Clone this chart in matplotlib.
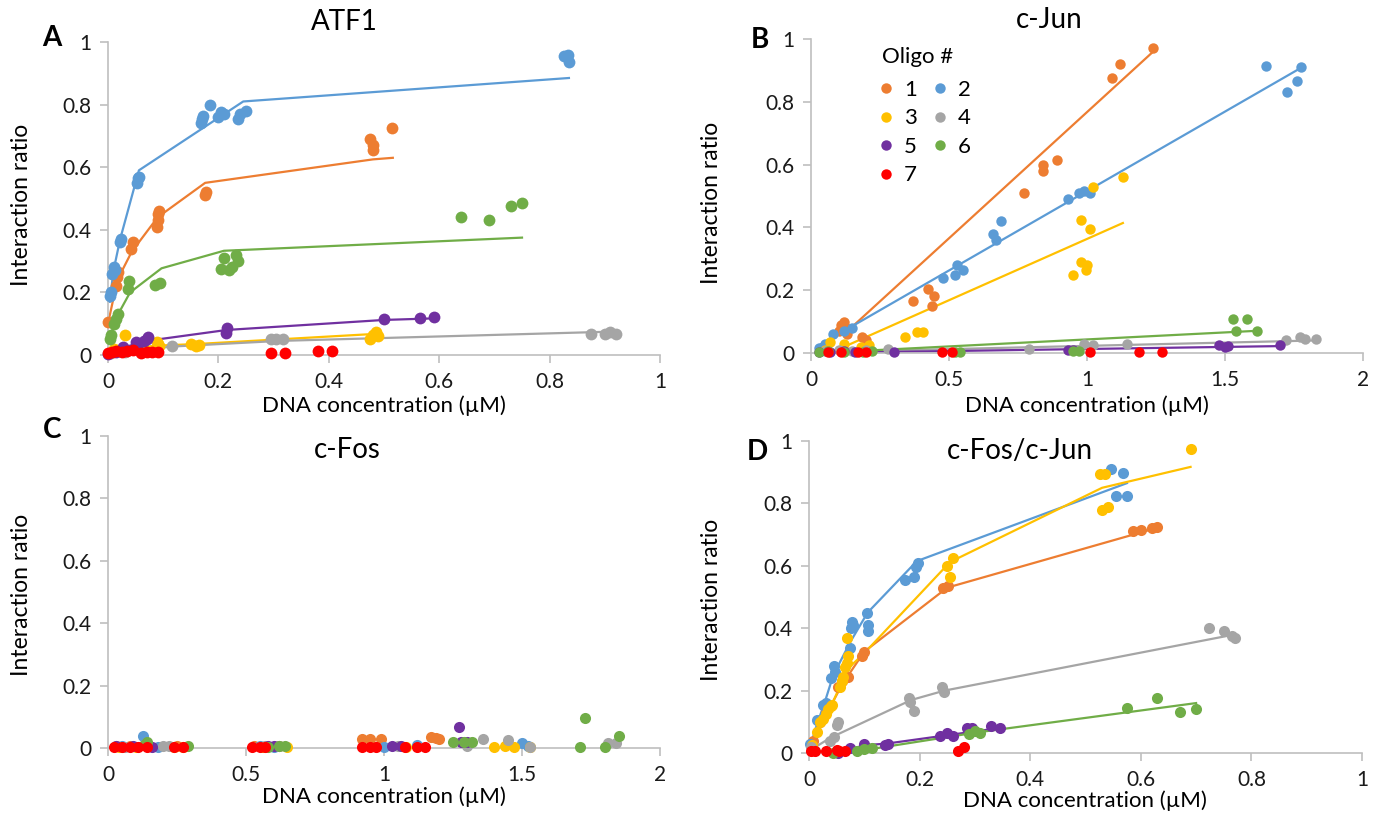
import numpy as np
import matplotlib.pyplot as plt

plt.rcParams['font.family'] = ['Lato', 'DejaVu Sans']

# Excel-style series colours, oligo 1..7
colors = ['#ED7D31', '#5B9BD5', '#FFC000', '#A5A5A5', '#7030A0', '#70AD47', '#FF0000']
oligos = ['1', '2', '3', '4', '5', '6', '7']

# ---- ATF1 ----
atf1_x = [
    [0.0, 0.015, 0.017, 0.019, 0.042, 0.045, 0.088, 0.09, 0.09, 0.092, 0.175, 0.178, 0.475, 0.48, 0.48, 0.515],
    [0.003, 0.005, 0.008, 0.01, 0.012, 0.022, 0.023, 0.053, 0.055, 0.056, 0.168, 0.17, 0.172, 0.185, 0.2, 0.205,
     0.21, 0.235, 0.24, 0.25, 0.826, 0.833, 0.835],
    [0.005, 0.01, 0.031, 0.088, 0.09, 0.092, 0.15, 0.16, 0.165, 0.475, 0.48, 0.485, 0.49],
    [0.005, 0.03, 0.116, 0.295, 0.305, 0.317, 0.875, 0.9, 0.91, 0.92],
    [0.0, 0.015, 0.027, 0.05, 0.055, 0.065, 0.07, 0.072, 0.213, 0.215, 0.5, 0.565, 0.59],
    [0.004, 0.006, 0.01, 0.014, 0.018, 0.036, 0.038, 0.085, 0.095, 0.205, 0.21, 0.22, 0.225, 0.232, 0.235,
     0.64, 0.69, 0.73, 0.75],
    [0.0, 0.008, 0.015, 0.025, 0.035, 0.045, 0.06, 0.07, 0.08, 0.09, 0.295, 0.32, 0.38, 0.405],
]
atf1_y = [
    [0.105, 0.22, 0.25, 0.265, 0.34, 0.36, 0.41, 0.43, 0.45, 0.46, 0.51, 0.52, 0.69, 0.67, 0.655, 0.725],
    [0.19, 0.2, 0.26, 0.28, 0.27, 0.36, 0.37, 0.55, 0.565, 0.57, 0.74, 0.755, 0.765, 0.8, 0.76, 0.775,
     0.77, 0.755, 0.77, 0.78, 0.955, 0.96, 0.935],
    [0.01, 0.02, 0.065, 0.04, 0.035, 0.03, 0.035, 0.03, 0.032, 0.05, 0.065, 0.075, 0.06],
    [0.005, 0.01, 0.03, 0.05, 0.052, 0.05, 0.068, 0.067, 0.072, 0.067],
    [0.003, 0.01, 0.025, 0.04, 0.035, 0.045, 0.05, 0.058, 0.07, 0.085, 0.115, 0.118, 0.12],
    [0.05, 0.065, 0.1, 0.115, 0.13, 0.21, 0.235, 0.225, 0.23, 0.275, 0.31, 0.27, 0.28, 0.32, 0.3,
     0.44, 0.43, 0.475, 0.487],
    [0.005, 0.01, 0.012, 0.01, 0.012, 0.015, 0.005, 0.008, 0.008, 0.01, 0.005, 0.005, 0.012, 0.013],
]
atf1_fit_x = [
    [0.0, 0.017, 0.043, 0.09, 0.176, 0.48, 0.516],
    [0.003, 0.01, 0.022, 0.056, 0.245, 0.835],
    [0.005, 0.03, 0.09, 0.16, 0.49],
    [0.0, 0.116, 0.31, 0.92],
    [0.0, 0.03, 0.07, 0.215, 0.5, 0.59],
    [0.004, 0.012, 0.04, 0.097, 0.21, 0.75],
    [],
]
atf1_fit_y = [
    [0.1, 0.24, 0.33, 0.44, 0.55, 0.625, 0.63],
    [0.17, 0.27, 0.37, 0.59, 0.81, 0.885],
    [0.01, 0.02, 0.03, 0.035, 0.068],
    [0.003, 0.027, 0.045, 0.075],
    [0.003, 0.025, 0.045, 0.08, 0.112, 0.117],
    [0.05, 0.11, 0.2, 0.277, 0.333, 0.375],
    [],
]

# ---- c-Jun ----
cjun_x = [
    [0.1, 0.11, 0.12, 0.125, 0.13, 0.185, 0.2, 0.37, 0.425, 0.44, 0.445, 0.77, 0.84, 0.84, 0.89, 1.09, 1.12, 1.24],
    [0.03, 0.05, 0.08, 0.12, 0.15, 0.48, 0.52, 0.53, 0.55, 0.66, 0.67, 0.69, 0.93, 0.97, 0.99, 1.01,
     1.65, 1.725, 1.76, 1.775],
    [0.05, 0.07, 0.12, 0.18, 0.21, 0.34, 0.385, 0.405, 0.95, 0.98, 0.995, 1.0, 0.98, 1.01, 1.02, 1.13],
    [0.05, 0.1, 0.15, 0.2, 0.28, 0.79, 0.99, 1.02, 1.145, 1.72, 1.77, 1.79, 1.83],
    [0.03, 0.07, 0.12, 0.16, 0.3, 0.93, 0.95, 1.48, 1.5, 1.51, 1.7],
    [0.03, 0.06, 0.12, 0.19, 0.22, 0.52, 0.54, 0.95, 0.97, 1.53, 1.54, 1.58, 1.615],
    [0.06, 0.11, 0.17, 0.2, 0.475, 0.51, 1.01, 1.19, 1.27],
]
cjun_y = [
    [0.07, 0.09, 0.1, 0.08, 0.06, 0.05, 0.04, 0.165, 0.205, 0.15, 0.18, 0.51, 0.6, 0.58, 0.615, 0.875, 0.92, 0.97],
    [0.015, 0.03, 0.06, 0.07, 0.08, 0.24, 0.25, 0.28, 0.265, 0.38, 0.36, 0.42, 0.49, 0.51, 0.515, 0.51,
     0.915, 0.83, 0.865, 0.91],
    [0.01, 0.035, 0.03, 0.02, 0.025, 0.05, 0.066, 0.066, 0.25, 0.29, 0.265, 0.28, 0.425, 0.395, 0.53, 0.56],
    [0.005, 0.008, 0.005, 0.01, 0.012, 0.012, 0.03, 0.025, 0.03, 0.04, 0.05, 0.045, 0.045],
    [0.002, 0.003, 0.005, 0.003, 0.004, 0.01, 0.008, 0.025, 0.02, 0.022, 0.025],
    [0.003, 0.005, 0.004, 0.003, 0.005, 0.004, 0.003, 0.006, 0.005, 0.108, 0.07, 0.108, 0.07],
    [0.003, 0.003, 0.003, 0.003, 0.003, 0.003, 0.003, 0.003, 0.003],
]
cjun_fit_x = [[0.12, 1.24], [0.03, 1.775], [0.1, 1.13], [0.05, 1.83], [0.03, 1.7], [0.03, 1.6], []]
cjun_fit_y = [[0.06, 0.96], [0.025, 0.908], [0.012, 0.414], [0.003, 0.04], [0.0, 0.022], [0.0, 0.07], []]

# ---- c-Fos ----
cfos_x = [
    [0.03, 0.08, 0.25, 0.53, 0.62, 0.92, 0.95, 0.99, 1.17, 1.19, 1.2],
    [0.05, 0.125, 0.18, 0.55, 0.6, 1.0, 1.12, 1.5, 1.52],
    [0.04, 0.1, 0.24, 0.27, 0.56, 0.65, 1.08, 1.4, 1.44, 1.47, 1.53],
    [0.06, 0.2, 0.22, 0.57, 0.62, 1.05, 1.3, 1.36, 1.45, 1.53, 1.81, 1.84],
    [0.03, 0.09, 0.16, 0.58, 0.6, 1.03, 1.06, 1.27, 1.28, 1.3],
    [0.13, 0.14, 0.29, 0.58, 0.62, 0.64, 1.25, 1.29, 1.32, 1.71, 1.73, 1.8, 1.85],
    [0.02, 0.05, 0.08, 0.11, 0.14, 0.24, 0.27, 0.52, 0.55, 0.57, 0.92, 0.95, 0.97, 1.075, 1.12, 1.15],
]
cfos_y = [
    [0.005, 0.005, 0.005, 0.005, 0.005, 0.03, 0.03, 0.028, 0.035, 0.033, 0.03],
    [0.005, 0.04, 0.003, 0.005, 0.003, 0.003, 0.01, 0.015, 0.005],
    [0.003, 0.003, 0.003, 0.003, 0.003, 0.003, 0.003, 0.003, 0.005, 0.003, 0.003],
    [0.003, 0.005, 0.005, 0.005, 0.005, 0.005, 0.005, 0.03, 0.025, 0.003, 0.015, 0.015],
    [0.005, 0.005, 0.003, 0.005, 0.005, 0.005, 0.005, 0.068, 0.02, 0.02],
    [0.01, 0.02, 0.005, 0.003, 0.005, 0.005, 0.02, 0.02, 0.02, 0.003, 0.097, 0.003, 0.037],
    [0.003, 0.003, 0.003, 0.003, 0.003, 0.003, 0.003, 0.003, 0.003, 0.003, 0.003, 0.003, 0.003,
     0.003, 0.003, 0.003],
]

# ---- c-Fos/c-Jun ----
fosjun_x = [
    [0.008, 0.02, 0.03, 0.053, 0.06, 0.07, 0.096, 0.1, 0.243, 0.252, 0.585, 0.6, 0.62, 0.63],
    [0.002, 0.014, 0.025, 0.03, 0.04, 0.045, 0.047, 0.075, 0.076, 0.078, 0.08, 0.105, 0.107, 0.106,
     0.173, 0.19, 0.193, 0.197, 0.546, 0.568, 0.555, 0.575],
    [0.005, 0.015, 0.02, 0.025, 0.03, 0.035, 0.04, 0.042, 0.056, 0.06, 0.062, 0.065, 0.068, 0.07, 0.068,
     0.25, 0.26, 0.255, 0.527, 0.535, 0.53, 0.54, 0.69],
    [0.003, 0.038, 0.045, 0.051, 0.053, 0.18, 0.183, 0.19, 0.24, 0.245, 0.723, 0.75, 0.765, 0.77],
    [0.052, 0.074, 0.1, 0.137, 0.143, 0.237, 0.25, 0.26, 0.285, 0.295, 0.33, 0.345],
    [0.044, 0.086, 0.1, 0.114, 0.29, 0.3, 0.31, 0.575, 0.63, 0.67, 0.7],
    [0.003, 0.01, 0.03, 0.05, 0.055, 0.065, 0.27, 0.28],
]
fosjun_y = [
    [0.04, 0.1, 0.14, 0.21, 0.23, 0.245, 0.31, 0.325, 0.53, 0.535, 0.71, 0.715, 0.72, 0.725],
    [0.03, 0.105, 0.155, 0.16, 0.24, 0.28, 0.26, 0.335, 0.4, 0.42, 0.41, 0.45, 0.39, 0.41,
     0.555, 0.565, 0.595, 0.61, 0.91, 0.897, 0.824, 0.824],
    [0.025, 0.068, 0.1, 0.11, 0.125, 0.14, 0.15, 0.155, 0.21, 0.23, 0.245, 0.275, 0.29, 0.31, 0.37,
     0.6, 0.625, 0.565, 0.895, 0.895, 0.78, 0.79, 0.975],
    [0.02, 0.04, 0.05, 0.09, 0.1, 0.175, 0.165, 0.135, 0.21, 0.195, 0.4, 0.39, 0.375, 0.37],
    [0.0, 0.015, 0.03, 0.025, 0.03, 0.055, 0.065, 0.055, 0.08, 0.08, 0.085, 0.08],
    [0.0, 0.005, 0.012, 0.015, 0.06, 0.07, 0.065, 0.145, 0.175, 0.13, 0.14],
    [0.008, 0.008, 0.005, 0.01, 0.007, 0.005, 0.005, 0.02],
]
fosjun_fit_x = [
    [0.008, 0.03, 0.06, 0.1, 0.25, 0.63],
    [0.002, 0.014, 0.028, 0.044, 0.076, 0.106, 0.195, 0.575],
    [0.005, 0.02, 0.04, 0.06, 0.07, 0.1, 0.255, 0.53, 0.69],
    [0.003, 0.04, 0.185, 0.245, 0.77],
    [0.052, 0.1, 0.14, 0.25, 0.345],
    [0.044, 0.11, 0.3, 0.7],
    [],
]
fosjun_fit_y = [
    [0.03, 0.12, 0.22, 0.325, 0.53, 0.722],
    [0.02, 0.09, 0.16, 0.25, 0.36, 0.45, 0.615, 0.865],
    [0.02, 0.09, 0.15, 0.23, 0.27, 0.32, 0.612, 0.85, 0.917],
    [0.01, 0.05, 0.17, 0.2, 0.38],
    [0.0, 0.025, 0.03, 0.057, 0.08],
    [0.0, 0.012, 0.065, 0.16],
    [],
]

W, H = 1380, 819
fig = plt.figure(figsize=(W / 100, H / 100), dpi=100)


def box(left, top, right, bottom):
    # pixel box -> figure fraction rect
    return [left / W, 1 - bottom / H, (right - left) / W, (bottom - top) / H]


def ftext(x, y, s, **kw):
    fig.text(x / W, 1 - y / H, s, ha='center', va='center', **kw)


def draw_panel(rect, xs, ys, fx, fy, xmax, xticks, xlabels, ms):
    ax = fig.add_axes(rect)
    for i in range(7):
        if fx is not None and len(fx[i]) > 0:
            ax.plot(fx[i], fy[i], color=colors[i], lw=1.6, zorder=2, clip_on=False)
    handles = []
    for i in range(7):
        h, = ax.plot(xs[i], ys[i], 'o', color=colors[i], ms=ms, mec='none',
                     zorder=3, clip_on=False, label=oligos[i])
        handles.append(h)
    ax.set_xlim(0, xmax)
    ax.set_ylim(0, 1)
    ax.set_xticks(xticks)
    ax.set_xticklabels(xlabels)
    ax.set_yticks([0, 0.2, 0.4, 0.6, 0.8, 1])
    ax.set_yticklabels(['0', '0.2', '0.4', '0.6', '0.8', '1'])
    for s in ['top', 'right']:
        ax.spines[s].set_visible(False)
    for s in ['left', 'bottom']:
        ax.spines[s].set_color('#BFBFBF')
        ax.spines[s].set_linewidth(1.2)
    ax.tick_params(direction='out', length=6, width=1.2, color='#BFBFBF',
                   labelsize=15, labelcolor='#1a1a1a', pad=6)
    return ax, handles


tk1 = [0, 0.2, 0.4, 0.6, 0.8, 1]
tl1 = ['0', '0.2', '0.4', '0.6', '0.8', '1']
tk2 = [0, 0.5, 1, 1.5, 2]
tl2 = ['0', '0.5', '1', '1.5', '2']

axA, _ = draw_panel(box(108, 42, 660, 355), atf1_x, atf1_y, atf1_fit_x, atf1_fit_y, 1, tk1, tl1, 8.5)
axB, hB = draw_panel(box(811, 39, 1363, 353), cjun_x, cjun_y, cjun_fit_x, cjun_fit_y, 2, tk2, tl2, 7.5)
axC, _ = draw_panel(box(108, 436, 660, 748), cfos_x, cfos_y, None, None, 2, tk2, tl2, 8)
axD, _ = draw_panel(box(809, 441, 1362, 753), fosjun_x, fosjun_y, fosjun_fit_x, fosjun_fit_y, 1, tk1, tl1, 8)

# legend ordered row-wise: 1 2 / 3 4 / 5 6 / 7
order = [0, 2, 4, 6, 1, 3, 5]
leg = axB.legend([hB[i] for i in order], [oligos[i] for i in order], ncol=2,
                 loc='upper left', bbox_to_anchor=(873 / W, 1 - 80 / H),
                 bbox_transform=fig.transFigure, frameon=False, fontsize=16,
                 borderaxespad=0, borderpad=0, handletextpad=0.2, columnspacing=0.45,
                 labelspacing=0.38, handlelength=1.2, markerscale=1.0)
ftext(918, 57, 'Oligo #', fontsize=16)

# titles
ftext(344, 22, 'ATF1', fontsize=20)
ftext(1049, 20, 'c-Jun', fontsize=20)
ftext(347, 450, 'c-Fos', fontsize=20)
ftext(1020, 451, 'c-Fos/c-Jun', fontsize=20)

# panel letters
ftext(52, 38, 'A', fontsize=20, fontweight='bold')
ftext(760, 40, 'B', fontsize=20, fontweight='bold')
ftext(52, 430, 'C', fontsize=20, fontweight='bold')
ftext(757, 452, 'D', fontsize=20, fontweight='bold')

# axis titles
for x, y in [(22, 205), (712, 203), (22, 595), (712, 600)]:
    ftext(x, y, 'Interaction ratio', fontsize=16.5, rotation=90)
for x, y in [(384, 406), (1087, 406), (384, 797), (1085, 801)]:
    ftext(x, y, 'DNA concentration (\u00b5M)', fontsize=16)

fig.savefig('out.png', dpi=100)
